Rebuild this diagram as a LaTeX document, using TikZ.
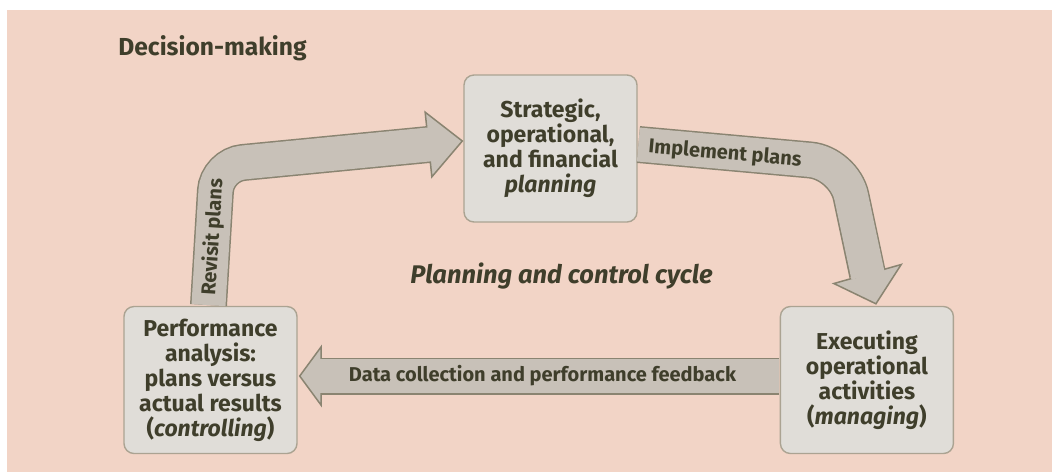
\documentclass[tikz,border=0pt]{standalone}
\usepackage{fontspec}
\setmainfont{Fira Sans}
\usetikzlibrary{positioning,calc}
\definecolor{ink}{HTML}{3F3E2B}
\definecolor{panel}{HTML}{F2D4C6}
\definecolor{boxfill}{HTML}{E0DDD8}
\definecolor{boxline}{HTML}{ABA392}
\definecolor{arrowfill}{HTML}{C8C1B8}
\definecolor{arrowline}{HTML}{8A8471}
\tikzset{
  stage/.style={draw=boxline,fill=boxfill,rounded corners=5pt,line width=0.7pt,minimum width=86.5pt,minimum height=73.5pt,inner sep=0pt,align=center,font=\fontsize{11.5}{12.5}\selectfont\bfseries,text=ink},
  shaft/.style={draw=arrowline,line width=18.5pt,rounded corners=#1},
  shaftfill/.style={draw=arrowfill,line width=17pt,rounded corners=#1},
  tag/.style={font=\fontsize{10}{12}\selectfont\bfseries,text=ink,inner sep=0pt}
}
% arrow head: base point, tip point, half width
\newcommand{\fathead}[3]{%
  \filldraw[fill=arrowfill,draw=arrowline,line width=0.75pt,line join=miter]
    ($(#1)!#3!90:(#2)$) -- (#2) -- ($(#1)!#3!-90:(#2)$) -- cycle;}

\begin{document}
\begin{tikzpicture}[x=0.5pt,y=-0.5pt]
    \useasboundingbox (0,0) rectangle (1052,473);
    \fill[panel] (7,10) rectangle (1052,472);

    \node[font=\fontsize{12.3}{14}\selectfont\bfseries,text=ink,anchor=base west,inner sep=0pt] (title) at (118,55) {Decision-making};

    \node[stage] (perf) at (210.5,380) {Performance\\analysis:\\plans versus\\actual results\\(\textit{controlling})};
    \node[stage,right=241pt of perf] (exec) {Executing\\operational\\activities\\(\textit{managing})};
    \node[stage] (plan) at (550.5,148.5) {Strategic,\\operational,\\and financial\\\textit{planning}};

    \node[font=\fontsize{12.75}{14}\selectfont\bfseries\itshape,text=ink,anchor=base,inner sep=0pt] (cycle) at (561.5,283) {Planning and control cycle};

    % revisit plans: perf -> plan
    \coordinate (rvbend) at (217,165);
    \coordinate (rvbase) at (428.5,144.5);
    \coordinate (rvtip) at ($(plan.west)+(-1,-7.5)$);
    \draw[shaft=13pt] ($(perf.north)+(-2,-0.7)$) -- (rvbend) -- (rvbase);
    \fathead{rvbase}{rvtip}{16.25pt}
    \draw[shaftfill=13pt] ($(perf.north)+(-2,-0.7)$) -- (rvbend) -- ($(rvbase)!1pt!(rvtip)$);

    % implement plans: plan -> exec
    \coordinate (imbend) at (844,163);
    \coordinate (imbase) at (867.5,274);
    \coordinate (imtip) at ($(exec.north)+(9,-2)$);
    \draw[shaft=17pt] ($(plan.east)+(0.7,-4)$) -- (imbend) -- (imbase);
    \fathead{imbase}{imtip}{17.5pt}
    \draw[shaftfill=17pt] ($(plan.east)+(0.7,-4)$) -- (imbend) -- ($(imbase)!1pt!(imtip)$);

    % feedback: exec -> perf
    \coordinate (dcbase) at (321,376);
    \coordinate (dctip) at ($(perf.east)+(2,-4)$);
    \draw[shaft=0pt] ($(exec.west)+(-0.7,-4)$) -- (dcbase);
    \fathead{dcbase}{dctip}{14.5pt}
    \draw[shaftfill=0pt] ($(exec.west)+(-0.7,-4)$) -- ($(dcbase)!1pt!(dctip)$);

    \node[tag,rotate=86.4] (revisit) at (213,237) {Revisit plans};
    \node[tag,rotate=-5] (implement) at (725,154) {Implement plans};
    \node[tag] (feedback) at (542.5,376) {Data collection and performance feedback};
\end{tikzpicture}
\end{document}
